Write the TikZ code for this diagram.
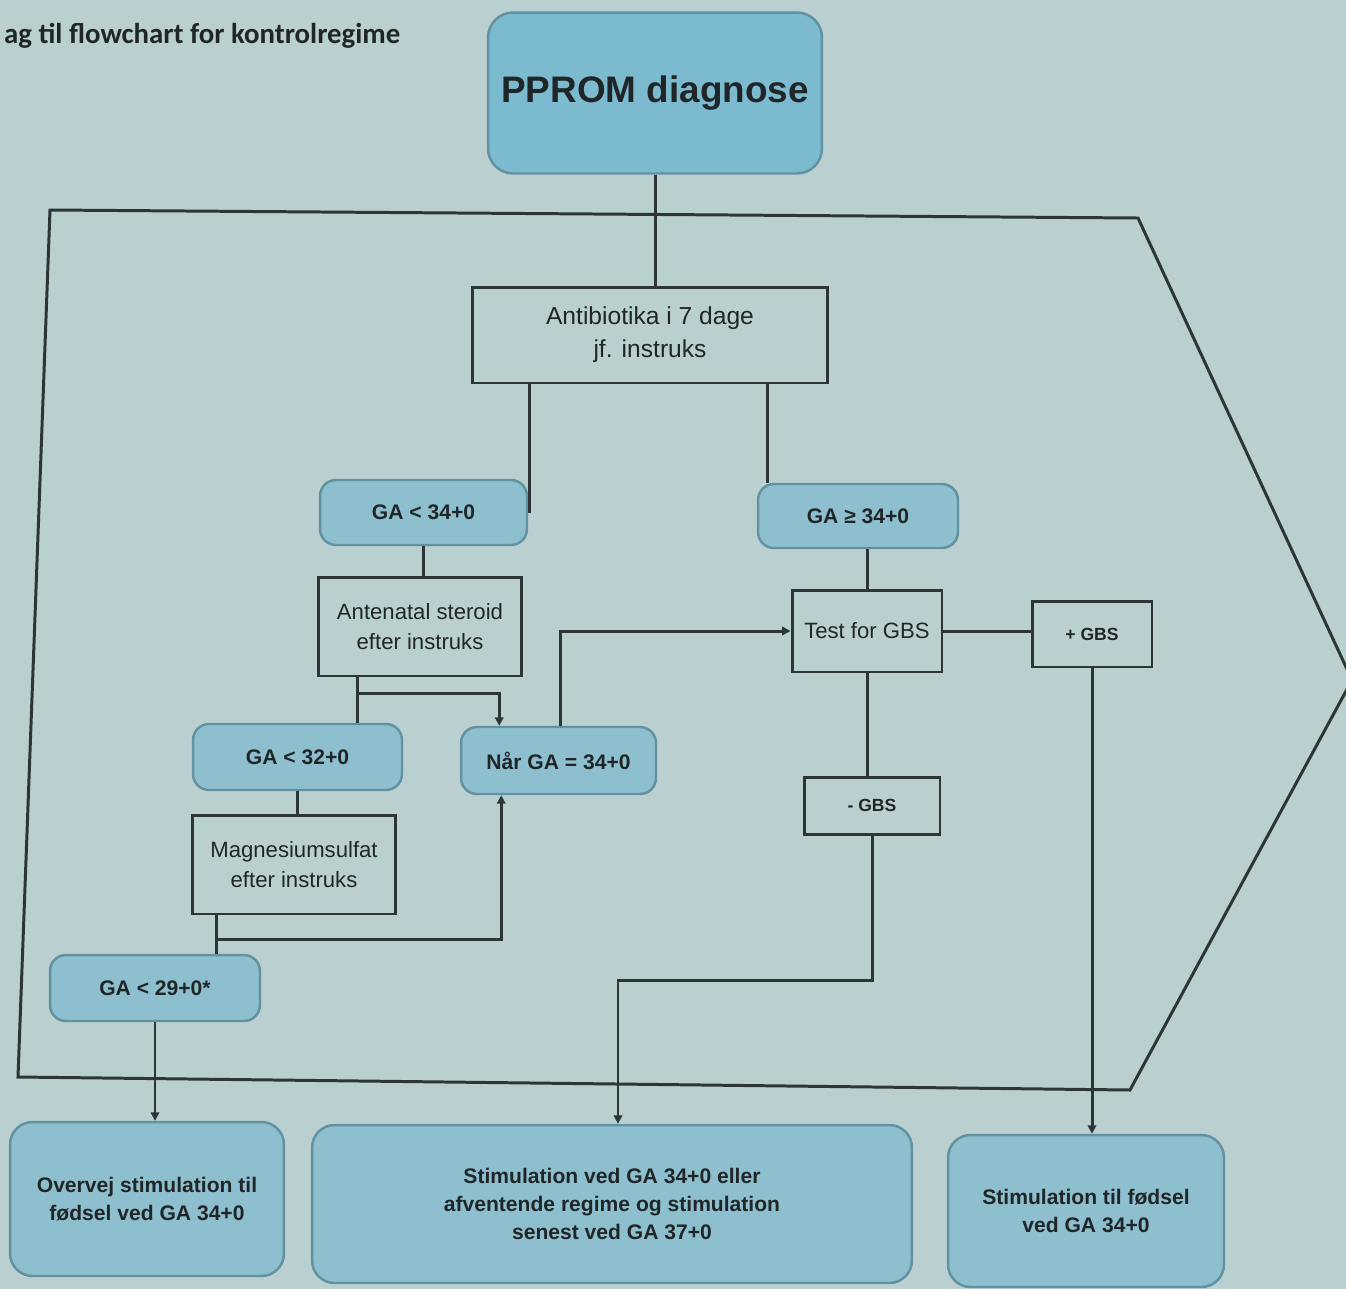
\documentclass[tikz,border=0pt]{standalone}
\usepackage{fontspec}
\setmainfont{Liberation Sans}
\newfontfamily\titlefont{Carlito}
\usetikzlibrary{calc,arrows.meta}
\definecolor{bgc}{RGB}{186,208,208}
\definecolor{fillc}{RGB}{141,191,207}
\definecolor{fillp}{RGB}{124,186,208}
\definecolor{fillb}{RGB}{98,146,162}
\definecolor{linec}{RGB}{44,54,57}
\definecolor{textc}{RGB}{32,38,40}
\tikzset{
  rbox/.style={draw=fillb, fill=fillc, line width=1.4pt, rounded corners=0.32cm, align=center, inner sep=0pt, text=textc, font=\bfseries\fontsize{12}{16}\selectfont},
  sbox/.style={draw=linec, line width=1.7pt, align=center, inner sep=0pt, text=textc, font=\fontsize{12.6}{17}\selectfont},
  conn/.style={draw=linec, line width=1.7pt},
  arr/.style={conn, -{Triangle[length=0.17cm,width=0.17cm]}},
}
\begin{document}
\begin{tikzpicture}[x=0.02cm,y=-0.02cm]
\fill[bgc] (0,0) rectangle (1346,1289);
\useasboundingbox (0,0) rectangle (1346,1289);
\begin{scope}
\clip (0,0) rectangle (1346,1289);
\draw[conn, line join=miter] (50,210) -- (1138,218) -- (1352,680) -- (1130,1090) -- (18,1077) -- cycle;
\end{scope}
\node[anchor=west, text=textc, font=\titlefont\bfseries\fontsize{16.4}{18}\selectfont] (title) at (-2,36) {ag til flowchart for kontrolregime};

\node[rbox, minimum width=6.68cm, minimum height=3.22cm, rounded corners=0.5cm, fill=fillp, font=\bfseries\fontsize{21}{25}\selectfont] (pp) at (655,93) {\raisebox{-0.1cm}{PPROM diagnose}};
\node[sbox, minimum width=7.12cm, minimum height=1.92cm, font=\fontsize{14}{18.7}\selectfont] (ant) at (650,335) {Antibiotika i 7 dage\\jf. instruks};
\node[rbox, minimum width=4.14cm, minimum height=1.3cm] (ga34l) at (423.5,512.5) {GA < 34+0};
\node[rbox, minimum width=4.0cm, minimum height=1.28cm] (ga34r) at (858,516) {GA ≥ 34+0};
\node[sbox, minimum width=4.08cm, minimum height=1.98cm] (ste) at (420,626.5) {Antenatal steroid\\efter instruks};
\node[rbox, minimum width=4.18cm, minimum height=1.32cm] (g32) at (297.5,757) {GA < 32+0};
\node[rbox, minimum width=3.9cm, minimum height=1.34cm] (naar) at (558.5,760.5) {Når GA = 34+0};
\node[sbox, minimum width=3.0cm, minimum height=1.64cm] (test) at (867,631) {Test for GBS};
\node[sbox, minimum width=2.4cm, minimum height=1.32cm, font=\bfseries\fontsize{10}{12}\selectfont] (plus) at (1092,634) {+ GBS};
\node[sbox, minimum width=2.72cm, minimum height=1.14cm, font=\bfseries\fontsize{10}{12}\selectfont] (minus) at (872,805.5) {- GBS};
\node[sbox, minimum width=4.08cm, minimum height=1.98cm] (mg) at (294,864.5) {Magnesiumsulfat\\efter instruks};
\node[rbox, minimum width=4.2cm, minimum height=1.32cm] (ga29) at (155,988) {GA < 29+0*};
\node[rbox, minimum width=5.48cm, minimum height=3.08cm, rounded corners=0.45cm] (b1) at (147,1199) {Overvej stimulation til\\fødsel ved GA 34+0};
\node[rbox, minimum width=12.0cm, minimum height=3.16cm, rounded corners=0.45cm] (b2) at (612,1204) {Stimulation ved GA 34+0 eller\\afventende regime og stimulation\\senest ved GA 37+0};
\node[rbox, minimum width=5.52cm, minimum height=3.04cm, rounded corners=0.45cm] (b3) at (1086,1211) {Stimulation til fødsel\\ved GA 34+0};

% connectors
\draw[conn] (pp.south) -- (pp.south |- ant.north);
\draw[conn] ($(ant.south west)!0.163!(ant.south east)$) coordinate (a1) -- (a1 |- ga34l.east);
\draw[conn] ($(ant.south west)!0.826!(ant.south east)$) coordinate (a2) -- (a2 |- ga34r.north);
\draw[conn] (ga34l.south) -- (ga34l.south |- ste.north);
\draw[conn] ($(ste.south west)!0.196!(ste.south east)$) coordinate (s1) -- (s1 |- g32.north);
\draw[arr] ($(s1)!0.36!(s1 |- g32.north)$) -| ($(naar.north west)!0.2!(naar.north east)$);
\draw[arr] ($(naar.north west)!0.508!(naar.north east)$) |- (test.west);
\draw[conn] (test.north |- ga34r.south) -- (test.north);
\draw[conn] (test.east) -- (test.east -| plus.west);
\draw[conn] (test.south) -- (test.south |- minus.north);
\draw[arr] (minus.south) -- ([yshift=0.16cm]minus.south |- ga29.east) -| ([xshift=0.12cm]b2.north);
\draw[arr] (plus.south) -- (plus.south |- b3.north);
\draw[conn] (g32.south) -- (g32.south |- mg.north);
\draw[conn] ($(mg.south west)!0.127!(mg.south east)$) coordinate (m1) -- (m1 |- ga29.north);
\draw[arr] ($(m1)!0.63!(m1 |- ga29.north)$) -| ($(naar.south west)!0.21!(naar.south east)$);
\draw[arr] (ga29.south) -- (ga29.south |- b1.north);
\end{tikzpicture}
\end{document}
